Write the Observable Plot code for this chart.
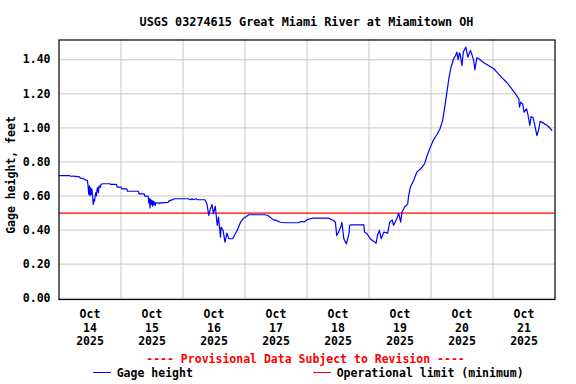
<!DOCTYPE html>
<html><head><meta charset="utf-8">
<script src="https://cdn.jsdelivr.net/npm/d3@7"></script>
<script src="https://cdn.jsdelivr.net/npm/@observablehq/plot@0.6"></script>
<style>body{margin:0;background:#fff}</style>
</head><body><div id="chart"></div>
<script>
const titleText = "USGS 03274615 Great Miami River at Miamitown OH";
const yLabel = "Gage height, feet";
const provisional = "---- Provisional Data Subject to Revision ----";
const seriesName = "Gage height";
const limitName = "Operational limit (minimum)";
const limitValue = 0.5;
const yTicks = [0, 0.2, 0.4, 0.6, 0.8, 1.0, 1.2, 1.4];
const dayLabels = ["14","15","16","17","18","19","20","21"];
const gridDays = ["15","16","17","18","19","20","21"];
const times = [
"10-14T00:00","10-14T04:00","10-14T04:30","10-14T05:30","10-14T08:00","10-14T08:15","10-14T09:30","10-14T09:45",
"10-14T11:00","10-14T11:15","10-14T11:30","10-14T11:45","10-14T12:00","10-14T12:15","10-14T12:30","10-14T12:45",
"10-14T13:00","10-14T13:15","10-14T13:30","10-14T13:45","10-14T14:00","10-14T14:15","10-14T14:30","10-14T14:45",
"10-14T15:00","10-14T15:15","10-14T15:30","10-14T16:00","10-14T16:15","10-14T17:00","10-14T19:45","10-14T20:00",
"10-14T22:15","10-14T22:30","10-15T00:00","10-15T00:15","10-15T02:15","10-15T02:30","10-15T06:45","10-15T07:00",
"10-15T09:00","10-15T09:15","10-15T10:30","10-15T10:45","10-15T11:00","10-15T11:15","10-15T11:30","10-15T11:45",
"10-15T12:00","10-15T12:15","10-15T12:30","10-15T12:45","10-15T13:00","10-15T13:15","10-15T13:30","10-15T14:30",
"10-15T15:00","10-15T15:15","10-15T18:15","10-15T18:30","10-15T20:15","10-15T20:30","10-16T02:00","10-16T03:00",
"10-16T03:30","10-16T04:00","10-16T05:00","10-16T05:30","10-16T08:30","10-16T09:15","10-16T10:00","10-16T10:30",
"10-16T11:15","10-16T11:45","10-16T12:30","10-16T13:15","10-16T13:45","10-16T14:30","10-16T14:45","10-16T15:30",
"10-16T16:15","10-16T17:00","10-16T17:45","10-16T19:15","10-16T20:15","10-16T21:15","10-16T22:15","10-16T23:30",
"10-17T01:30","10-17T07:45","10-17T09:00","10-17T11:00","10-17T12:00","10-17T13:45","10-17T15:30","10-17T20:45",
"10-17T21:30","10-17T23:15","10-18T00:00","10-18T02:30","10-18T08:15","10-18T10:15","10-18T11:00","10-18T11:30",
"10-18T12:15","10-18T13:15","10-18T13:30","10-18T14:15","10-18T15:15","10-18T16:15","10-18T16:30","10-18T16:45",
"10-18T22:00","10-18T22:15","10-18T23:15","10-19T00:30","10-19T01:45","10-19T02:45","10-19T03:15","10-19T04:00",
"10-19T04:45","10-19T05:45","10-19T07:15","10-19T08:00","10-19T09:00","10-19T09:30","10-19T10:45","10-19T11:30",
"10-19T12:15","10-19T12:45","10-19T13:45","10-19T15:00","10-19T15:15","10-19T16:00","10-19T17:15","10-19T18:30",
"10-19T20:00","10-19T21:30","10-19T22:30","10-19T23:45","10-20T01:00","10-20T02:15","10-20T03:30","10-20T04:30",
"10-20T05:30","10-20T06:15","10-20T07:00","10-20T07:45","10-20T08:45","10-20T09:30","10-20T10:00","10-20T10:30",
"10-20T11:00","10-20T11:15","10-20T12:00","10-20T12:30","10-20T13:30","10-20T14:15","10-20T15:15","10-20T15:45",
"10-20T16:30","10-20T17:00","10-20T17:45","10-20T19:00","10-20T20:30","10-20T22:15","10-21T00:15","10-21T01:30",
"10-21T03:30","10-21T05:15","10-21T06:45","10-21T08:30","10-21T10:00","10-21T10:15","10-21T10:45","10-21T11:30",
"10-21T12:00","10-21T13:00","10-21T13:30","10-21T14:15","10-21T14:45","10-21T15:30","10-21T16:00","10-21T17:00",
"10-21T17:45","10-21T18:15","10-21T19:30","10-21T21:00","10-21T22:15","10-21T22:45"
];
const gage = [
0.72,0.72,0.716,0.717,0.712,0.705,0.703,0.697,
0.69,0.66,0.61,0.66,0.60,0.65,0.61,0.64,
0.60,0.55,0.58,0.57,0.60,0.62,0.60,0.64,
0.65,0.62,0.66,0.65,0.668,0.672,0.672,0.668,
0.668,0.652,0.652,0.642,0.642,0.628,0.628,0.613,
0.613,0.599,0.60,0.56,0.585,0.53,0.58,0.55,
0.575,0.54,0.57,0.55,0.565,0.545,0.56,0.56,
0.555,0.56,0.563,0.57,0.58,0.584,0.584,0.578,
0.584,0.578,0.584,0.578,0.578,0.554,0.486,0.52,
0.55,0.495,0.54,0.427,0.476,0.358,0.417,0.40,
0.329,0.382,0.349,0.349,0.378,0.407,0.446,0.47,
0.49,0.49,0.484,0.46,0.457,0.446,0.443,0.443,
0.45,0.45,0.462,0.47,0.47,0.456,0.446,0.368,
0.388,0.427,0.446,0.349,0.319,0.378,0.427,0.431,
0.431,0.388,0.378,0.349,0.335,0.323,0.368,0.398,
0.349,0.388,0.382,0.446,0.46,0.427,0.466,0.499,
0.446,0.505,0.534,0.554,0.593,0.652,0.691,0.74,
0.76,0.789,0.838,0.887,0.93,0.96,0.995,1.043,
1.14,1.22,1.298,1.356,1.406,1.425,1.445,1.40,
1.44,1.435,1.366,1.445,1.474,1.415,1.455,1.435,
1.396,1.341,1.412,1.40,1.382,1.366,1.347,1.327,
1.294,1.268,1.239,1.204,1.171,1.122,1.151,1.141,
1.092,1.112,1.079,1.014,1.067,1.059,1.028,0.955,
0.995,1.039,1.028,1.014,0.995,0.985
];

const toDate = s => new Date(`2025-${s}:00Z`);
const data = times.map((t, i) => ({date: toDate(t), value: gage[i]}));
const labelTicks = dayLabels.map(d => new Date(`2025-10-${d}T12:00:00Z`));
const gridTicks = gridDays.map(d => new Date(`2025-10-${d}T00:00:00Z`));
const FONT = "'DejaVu Sans Mono', 'Liberation Mono', monospace";
const W = 576, H = 384;

const plot = Plot.plot({
  width: W, height: H,
  marginLeft: 58.5, marginRight: 21.5, marginTop: 39.5, marginBottom: 85,
  style: {fontFamily: FONT, fontSize: "11.5px", fontWeight: "bold", color: "#000", background: "#fff"},
  x: {type: "utc", domain: [new Date("2025-10-14T00:00:00Z"), new Date("2025-10-22T00:00:00Z")]},
  y: {domain: [-0.0076, 1.516]},
  marks: [
    Plot.gridX(gridTicks, {stroke: "#c8c8c8", strokeOpacity: 1, strokeWidth: 1}),
    Plot.gridY(yTicks, {stroke: "#c8c8c8", strokeOpacity: 1, strokeWidth: 1}),
    Plot.axisY(yTicks, {tickSize: 0, tickPadding: 8.5, tickFormat: d3.format(".2f"), label: null, fill: "#000"}),
    Plot.axisX(labelTicks, {tickSize: 0, tickPadding: 9.5, lineHeight: 1.15, label: null, fill: "#000",
      tickFormat: d => `Oct\n${d.getUTCDate()}\n2025`}),
    Plot.ruleY([limitValue], {stroke: "#ff0000", strokeWidth: 1.3}),
    Plot.line(data, {x: "date", y: "value", stroke: "#0000ff", strokeWidth: 1.2}),
    Plot.frame({stroke: "#000", strokeWidth: 1.2})
  ]
});

const svg = d3.select(plot);
const txt = (x, y, s, opts = {}) => svg.append("text")
  .attr("x", x).attr("y", y)
  .attr("font-family", FONT).attr("font-size", opts.size || "11.5px").attr("font-weight", "bold")
  .attr("fill", opts.fill || "#000")
  .attr("text-anchor", opts.anchor || "start")
  .attr("dominant-baseline", "central")
  .text(s);

txt(306.5, 21.5, titleText, {anchor: "middle", size: "11.8px"});
svg.append("text")
  .attr("transform", "translate(11,175) rotate(-90)")
  .attr("font-family", FONT).attr("font-size", "11.5px").attr("font-weight", "bold")
  .attr("text-anchor", "middle").attr("dominant-baseline", "central").attr("fill", "#000")
  .text(yLabel);
txt(305.5, 359, provisional, {anchor: "middle", fill: "#ff0000"});
svg.append("line").attr("x1", 93).attr("x2", 111).attr("y1", 372.5).attr("y2", 372.5).attr("stroke", "#0000ff").attr("stroke-width", 1);
txt(116.7, 373, seriesName);
svg.append("line").attr("x1", 313).attr("x2", 331).attr("y1", 372.5).attr("y2", 372.5).attr("stroke", "#ff0000").attr("stroke-width", 1);
txt(336.7, 373, limitName);

document.getElementById("chart").appendChild(plot);
</script>
</body></html>
